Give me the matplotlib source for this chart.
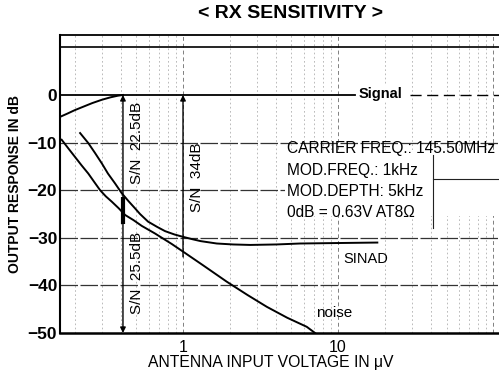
import matplotlib
matplotlib.use("Agg")
import matplotlib.pyplot as plt

plt.rcParams["font.family"] = ["Liberation Sans", "DejaVu Sans"]

# Antenna input voltage (uV) vs. output response (dB)
signal_uv = [0.161, 0.18, 0.20, 0.23, 0.26, 0.30, 0.34, 0.38, 0.41]
signal_db = [-4.6, -3.9, -3.2, -2.4, -1.7, -1.0, -0.5, -0.15, 0.0]

sinad_uv = [0.217, 0.245, 0.271, 0.300, 0.328, 0.365, 0.402, 0.445, 0.490, 0.528, 0.595,
            0.68, 0.766, 0.88, 1.0, 1.15, 1.30, 1.65, 2.1, 2.71, 4.0, 5.69, 10.0, 17.9]
sinad_db = [-8.0, -10.1, -12.2, -14.4, -16.5, -18.6, -20.6, -22.3, -23.8, -25.0, -26.6,
            -27.7, -28.6, -29.3, -29.8, -30.3, -30.7, -31.2, -31.4, -31.5, -31.4, -31.2, -31.1, -31.0]

noise_uv = [0.165, 0.182, 0.201, 0.222, 0.245, 0.268, 0.292, 0.318, 0.347, 0.385, 0.423,
            0.48, 0.542, 0.660, 0.846, 1.0, 1.35, 1.91, 2.6, 3.47, 4.7, 6.28, 7.1]
noise_db = [-9.4, -11.2, -13.0, -14.8, -16.5, -18.3, -20.0, -21.3, -22.4, -23.8, -25.2,
            -26.3, -27.5, -29.1, -31.3, -32.9, -35.8, -39.2, -42.0, -44.5, -46.8, -48.7, -50.0]

# S/N markers
sn_low_uv = 0.41
sn_low_top = 22.5      # dB between signal and SINAD
sn_low_bottom = 25.5   # dB down to the floor
sn_high_uv = 1.0
sn_high = 34.0

y_ticks = [0, -10, -20, -30, -40, -50]
y_ticklabels = ["0", "\u221210", "\u221220", "\u221230", "\u221240", "\u221250"]
x_ticks = [1, 10]
x_ticklabels = ["1", "10"]

info_lines = ["CARRIER FREQ.: 145.50MHz",
              "MOD.FREQ.: 1kHz",
              "MOD.DEPTH: 5kHz",
              "0dB = 0.63V AT8\u03a9"]

W, H = 499, 378
fig = plt.figure(figsize=(W / 100, H / 100), dpi=100)
ax = fig.add_axes([60 / W, 1 - 333 / H, 1 - 60 / W, (333 - 35) / H])
ax.set_xscale("log")
ax.set_xlim(0.161, 109)
ax.set_ylim(-50, 12.6)

ax.set_xticks(x_ticks)
ax.set_xticklabels(x_ticklabels, fontsize=11.5)
ax.set_yticks(y_ticks)
ax.set_yticklabels(y_ticklabels, fontsize=12.5, fontweight="bold")
ax.tick_params(axis="both", length=0)
ax.tick_params(axis="y", pad=2)
ax.tick_params(axis="x", pad=5)
ax.minorticks_off()

# printed grid
for m in [0.2, 0.3, 0.4, 0.5, 0.6, 0.7, 0.8, 0.9,
          2, 3, 4, 5, 6, 7, 8, 9, 20, 30, 40, 50, 60, 70, 80, 90]:
    ax.axvline(m, color="#b0b0b0", lw=0.6, ls=(0, (2, 3)), zorder=1)
for d in [1, 10, 100]:
    ax.axvline(d, color="#808080", lw=0.7, ls=(0, (4, 3)), zorder=1)
for h in [-10, -20, -30, -40]:
    ax.axhline(h, color="#333333", lw=0.9, ls=(0, (14, 2)), zorder=1)
ax.axhline(10, color="black", lw=1.2, zorder=2)

ax.spines["right"].set_visible(False)
ax.spines["left"].set_linewidth(1.5)
ax.spines["bottom"].set_linewidth(1.8)
ax.spines["top"].set_linewidth(1.3)

# 0 dB reference / signal line
ax.plot([0.161, 12.9], [0, 0], color="black", lw=1.3, zorder=3)
ax.plot([29, 109], [0, 0], color="black", lw=1.0, ls=(0, (8, 4)), zorder=3)
ax.plot(signal_uv, signal_db, color="black", lw=1.4, zorder=3)

ax.plot(sinad_uv, sinad_db, color="black", lw=1.4, zorder=3)
ax.plot(noise_uv, noise_db, color="black", lw=1.4, zorder=3)

# S/N arrows
arrow_kw = dict(arrowstyle="-|>", color="black", lw=1.0, mutation_scale=8, shrinkA=0, shrinkB=0)
ax.annotate("", xy=(sn_low_uv, 0), xytext=(sn_low_uv, -sn_low_top), arrowprops=arrow_kw, zorder=4)
ax.annotate("", xy=(sn_low_uv, -50), xytext=(sn_low_uv, -50 + sn_low_bottom), arrowprops=arrow_kw, zorder=4)
ax.plot([sn_low_uv, sn_low_uv], [-21.5, -27.0], color="black", lw=3, zorder=4, solid_capstyle="butt")
ax.annotate("", xy=(sn_high_uv, 0), xytext=(sn_high_uv, -sn_high), arrowprops=arrow_kw, zorder=4)

ax.text(0.505, -10.1, f"S/N  {sn_low_top:g}dB", rotation=90, ha="center", va="center", fontsize=11, zorder=5)
ax.text(0.505, -37.4, f"S/N  {sn_low_bottom:g}dB", rotation=90, ha="center", va="center", fontsize=11, zorder=5)
ax.text(1.23, -17.2, f"S/N  {sn_high:g}dB", rotation=90, ha="center", va="center", fontsize=11, zorder=5)

# curve labels
ax.text(18.7, 0.3, "Signal", ha="center", va="center", fontsize=10.5, fontweight="bold",
        bbox=dict(facecolor="white", edgecolor="none", pad=1), zorder=5)
ax.text(15.0, -34.4, "SINAD", ha="center", va="center", fontsize=10.5, zorder=5)
ax.text(9.4, -45.7, "noise", ha="center", va="center", fontsize=11, zorder=5)

# measurement conditions
box_x = 10 ** ((287 - 183) / 155)
ax.fill_between([box_x * 0.97, 109], -11.5, -25.5, color="white", zorder=4, lw=0)
for i, line in enumerate(info_lines):
    ypx = 149 + i * 21.3
    ax.text(box_x, (95 - ypx) / 4.76, line, ha="left", va="center", fontsize=11.2, zorder=5)
ax.plot([41, 41], [-12.7, -28.0], color="#222222", lw=0.8, zorder=5)
ax.plot([41, 109], [-17.6, -17.6], color="#222222", lw=0.8, zorder=5)

ax.set_ylabel("OUTPUT RESPONSE IN dB", fontsize=10, fontweight="bold", labelpad=4)
fig.text(271 / W, 1 - 362 / H, "ANTENNA INPUT VOLTAGE IN \u03bcV", ha="center", va="center", fontsize=11.3)
fig.text(291 / W, 1 - 13 / H, "< RX SENSITIVITY >", ha="center", va="center", fontsize=14, fontweight="bold")

fig.savefig("out.png", dpi=100, facecolor="white")
